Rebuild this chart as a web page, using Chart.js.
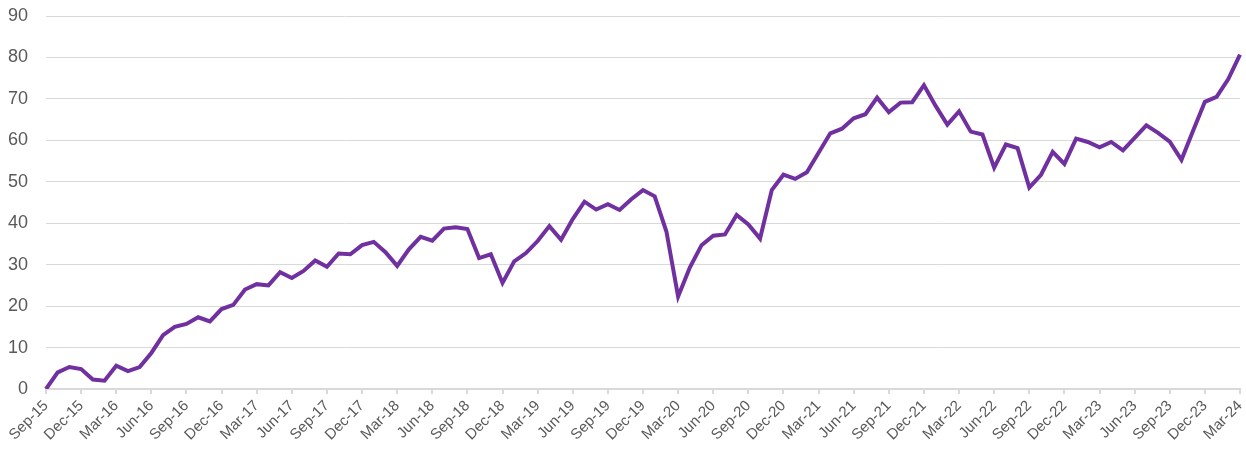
<!DOCTYPE html>
<html>
<head>
<meta charset="utf-8">
<script src="https://cdn.jsdelivr.net/npm/chart.js@4.4.1/dist/chart.umd.min.js"></script>
<style>
  html, body { margin: 0; padding: 0; background: #fff; }
  #wrap { width: 1246px; height: 450px; }
</style>
</head>
<body>
<div id="wrap"><canvas id="chart" width="1246" height="450"></canvas></div>
<script>
// monthly labels Sep-15 .. Mar-24
const months = [
  'Sep-15','Oct-15','Nov-15','Dec-15','Jan-16','Feb-16','Mar-16','Apr-16','May-16','Jun-16','Jul-16','Aug-16',
  'Sep-16','Oct-16','Nov-16','Dec-16','Jan-17','Feb-17','Mar-17','Apr-17','May-17','Jun-17','Jul-17','Aug-17',
  'Sep-17','Oct-17','Nov-17','Dec-17','Jan-18','Feb-18','Mar-18','Apr-18','May-18','Jun-18','Jul-18','Aug-18',
  'Sep-18','Oct-18','Nov-18','Dec-18','Jan-19','Feb-19','Mar-19','Apr-19','May-19','Jun-19','Jul-19','Aug-19',
  'Sep-19','Oct-19','Nov-19','Dec-19','Jan-20','Feb-20','Mar-20','Apr-20','May-20','Jun-20','Jul-20','Aug-20',
  'Sep-20','Oct-20','Nov-20','Dec-20','Jan-21','Feb-21','Mar-21','Apr-21','May-21','Jun-21','Jul-21','Aug-21',
  'Sep-21','Oct-21','Nov-21','Dec-21','Jan-22','Feb-22','Mar-22','Apr-22','May-22','Jun-22','Jul-22','Aug-22',
  'Sep-22','Oct-22','Nov-22','Dec-22','Jan-23','Feb-23','Mar-23','Apr-23','May-23','Jun-23','Jul-23','Aug-23',
  'Sep-23','Oct-23','Nov-23','Dec-23','Jan-24','Feb-24','Mar-24'
];

const values = [
  0, 4, 5.3, 4.8, 2.3, 2, 5.6, 4.3, 5.3, 8.7, 13, 15,
  15.7, 17.3, 16.3, 19.3, 20.3, 24, 25.3, 25, 28.2, 26.8, 28.5, 31,
  29.5, 32.7, 32.5, 34.7, 35.5, 33, 29.7, 33.7, 36.7, 35.8, 38.7, 39,
  38.6, 31.6, 32.5, 25.6, 30.8, 32.8, 35.7, 39.3, 36, 41, 45.2, 43.3,
  44.6, 43.2, 45.8, 48, 46.5, 38, 22.3, 29.3, 34.7, 37, 37.3, 42,
  39.7, 36.3, 48, 51.7, 50.7, 52.3, 57, 61.7, 62.8, 65.3, 66.3, 70.3,
  66.8, 69.1, 69.2, 73.3, 68.3, 63.8, 67, 62.1, 61.4, 53.4, 59, 58.1,
  48.6, 51.7, 57.2, 54.3, 60.4, 59.6, 58.3, 59.6, 57.6, 60.6, 63.6, 61.8,
  59.7, 55.3, 62.4, 69.3, 70.5, 74.8, 80.7
];

const yTicks = [0, 10, 20, 30, 40, 50, 60, 70, 80, 90];

const textColor = '#595959';
const gridColor = '#d9d9d9';

new Chart(document.getElementById('chart'), {
  type: 'line',
  data: {
    labels: months,
    datasets: [{
      data: values,
      borderColor: '#7030a0',
      borderWidth: 4,
      pointRadius: 0,
      tension: 0,
      fill: false
    }]
  },
  options: {
    responsive: false,
    animation: false,
    layout: { padding: { top: 16, right: 6, left: 0, bottom: 0 } },
    plugins: { legend: { display: false }, tooltip: { enabled: false } },
    scales: {
      x: {
        offset: false,
        afterFit: axis => {
          axis.height = 61;
          axis.paddingLeft = 0;
          axis.paddingRight = 0;
        },
        grid: {
          display: true,
          drawOnChartArea: false,
          drawTicks: true,
          tickLength: 5,
          lineWidth: 2,
          color: gridColor
        },
        border: { display: true, color: gridColor, width: 2 },
        ticks: {
          autoSkip: false,
          maxRotation: 45,
          minRotation: 45,
          color: textColor,
          font: { family: 'Liberation Sans', size: 15 },
          padding: 3,
          callback: (v, i) => (i % 3 === 0 ? months[i] : null)
        }
      },
      y: {
        min: yTicks[0],
        max: yTicks[yTicks.length - 1],
        afterBuildTicks: axis => { axis.ticks = yTicks.map(v => ({ value: v })); },
        afterFit: axis => {
          axis.width = 46;
          axis.paddingTop = 0;
          axis.paddingBottom = 0;
        },
        grid: { color: gridColor, drawTicks: false },
        border: { display: false },
        ticks: {
          color: textColor,
          font: { family: 'Liberation Sans', size: 18 },
          padding: 18
        }
      }
    }
  }
});
</script>
</body>
</html>
